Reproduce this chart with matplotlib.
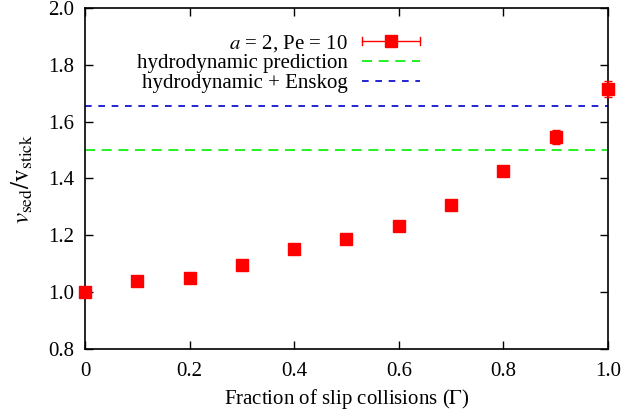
import matplotlib
matplotlib.use("Agg")
import matplotlib.pyplot as plt
from matplotlib.legend_handler import HandlerBase
from matplotlib.lines import Line2D
import numpy as np

# sedimentation velocity ratio vs fraction of slip collisions
gamma = [0.0, 0.1, 0.2, 0.3, 0.4, 0.5, 0.6, 0.7, 0.8, 0.9, 1.0]
v_ratio = [1.000, 1.038, 1.049, 1.095, 1.151, 1.186, 1.232, 1.307, 1.426, 1.546, 1.716]
v_err = [0.010, 0.010, 0.010, 0.010, 0.010, 0.012, 0.010, 0.012, 0.014, 0.025, 0.028]
hydro_pred = 1.5
hydro_enskog = 1.656

red = '#ff0000'


class ErrorbarKey(HandlerBase):
    # gnuplot-style key: horizontal bar with end ticks and the point in the middle
    def create_artists(self, legend, orig_handle, xdescent, ydescent,
                       width, height, fontsize, trans):
        y = height / 2 - ydescent
        x0, x1 = -xdescent, width - xdescent
        c = 3
        bar = Line2D([x0, x1], [y, y], color=red, lw=1)
        cap0 = Line2D([x0, x0], [y - c, y + c], color=red, lw=1)
        cap1 = Line2D([x1, x1], [y - c, y + c], color=red, lw=1)
        pt = Line2D([(x0 + x1) / 2], [y], marker='s', ms=8, color=red, ls='none')
        arts = [bar, cap0, cap1, pt]
        for a in arts:
            a.set_transform(trans)
        return arts


plt.rcParams['font.family'] = ['Liberation Serif', 'DejaVu Serif']
plt.rcParams['mathtext.fontset'] = 'stix'
plt.rcParams['font.size'] = 15

fig = plt.figure(figsize=(6.44, 4.17), dpi=100)
ax = fig.add_axes([0.132, 0.163, 0.812, 0.818])

eb = ax.errorbar(gamma, v_ratio, yerr=v_err, fmt='s', color=red, ms=8,
                 capsize=3, elinewidth=1, capthick=1, clip_on=False, zorder=5)
l1 = ax.axhline(hydro_pred, color='#00ee00', ls=(0, (6, 4)), lw=1.2)
l2 = ax.axhline(hydro_enskog, color='#0000cc', ls=(0, (4, 4)), lw=1.2)

ax.set_xlim(0, 1.0)
ax.set_ylim(0.8, 2.0)
ax.set_xticks([0, 0.2, 0.4, 0.6, 0.8, 1.0])
ax.set_xticklabels(['0', '0.2', '0.4', '0.6', '0.8', '1.0'])
ax.set_yticks(np.arange(0.8, 2.01, 0.2))
ax.set_yticklabels(['%.1f' % v for v in np.arange(0.8, 2.01, 0.2)])
ax.tick_params(direction='in', top=True, right=True, length=6, width=1)
ax.tick_params(axis='x', pad=9)
ax.tick_params(axis='y', pad=8)
for s in ax.spines.values():
    s.set_linewidth(1.2)

ax.set_xlabel(r'Fraction of slip collisions ($\Gamma$)', labelpad=5)
ax.set_ylabel(r'$v_{\rm sed}/{\rm v}_{\rm stick}$', fontsize=18, labelpad=9)

leg = ax.legend([eb, l1, l2],
                [r'$a$ = 2, Pe = 10', 'hydrodynamic prediction', 'hydrodynamic + Enskog'],
                handler_map={type(eb): ErrorbarKey()},
                loc='upper right', bbox_to_anchor=(420 / 644, (417 - 33) / 417),
                bbox_transform=fig.transFigure, markerfirst=False,
                frameon=False, handlelength=2.8, borderaxespad=0, borderpad=0,
                labelspacing=0.0, handletextpad=0.65)
for t in leg.get_texts():
    t.set_ha('right')

fig.savefig('out.png', dpi=100)
